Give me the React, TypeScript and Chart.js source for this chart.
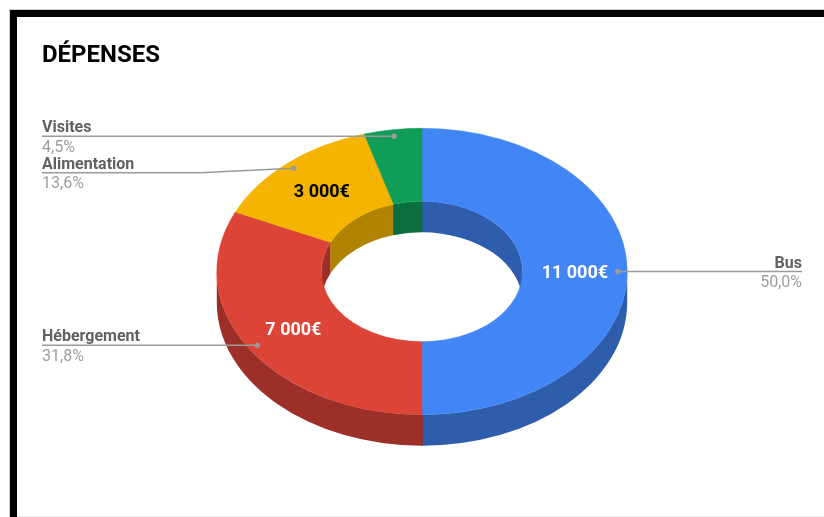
import React, { useEffect, useRef } from 'react';
import { Chart, registerables } from 'chart.js';

Chart.register(...registerables);

const TITLE = 'DÉPENSES';
const categories = ['Bus', 'Hébergement', 'Alimentation', 'Visites'];
const amounts = [11000, 7000, 3000, 1000];
const topColors = ['#4285f4', '#db4437', '#f4b400', '#0f9d58'];
const sideColors = ['#2e5eab', '#9c2f27', '#b08400', '#0b6e3f'];
const valueTextColors = ['#ffffff', '#ffffff', '#000000', '#ffffff'];
const labelSides = ['right', 'left', 'left', 'left'];

const TILT = 0.698;
const DEPTH = 31;

const fmtMoney = (v: number) => String(v).replace(/\B(?=(\d{3})+(?!\d))/g, ' ') + '€';
const fmtPct = (p: number) => (p * 100).toFixed(1).replace('.', ',') + '%';

const PI = Math.PI;

function wallBand(ctx: CanvasRenderingContext2D, cx: number, cy: number, r: number, s: number, e: number) {
  ctx.beginPath();
  ctx.ellipse(cx, cy, r, r * TILT, 0, s, e, false);
  ctx.ellipse(cx, cy + DEPTH, r, r * TILT, 0, e, s, true);
  ctx.closePath();
  ctx.fill();
}

const donut3d = {
  id: 'donut3d',
  beforeDatasetsDraw(chart: any) {
    const ctx = chart.ctx;
    const arcs = chart.getDatasetMeta(0).data;
    if (!arcs.length) return;
    const cx = arcs[0].x;
    const cy = arcs[0].y;
    const pad = 0.004;
    ctx.save();
    arcs.forEach((arc: any, i: number) => {
      ctx.fillStyle = sideColors[i];
      const s0 = arc.startAngle - pad;
      const e0 = arc.endAngle + pad;
      // outer wall: front half [0, PI]
      const os = Math.max(s0, 0);
      const oe = Math.min(e0, PI);
      if (oe > os) wallBand(ctx, cx, cy, arc.outerRadius, os, oe);
      // inner wall: back half [-PI, 0] and [PI, 2PI]
      [[-PI, 0], [PI, 2 * PI]].forEach(([a, b]) => {
        const is = Math.max(s0, a);
        const ie = Math.min(e0, b);
        if (ie > is) wallBand(ctx, cx, cy, arc.innerRadius, is, ie);
      });
    });
    ctx.restore();
    ctx.save();
    ctx.translate(cx, cy);
    ctx.scale(1, TILT);
    ctx.translate(-cx, -cy);
  },
  afterDatasetsDraw(chart: any) {
    chart.ctx.restore();
  },
};

const labelsPlugin = {
  id: 'labelsPlugin',
  afterDraw(chart: any) {
    const ctx = chart.ctx;
    const arcs = chart.getDatasetMeta(0).data;
    const total = amounts.reduce((a, b) => a + b, 0);
    ctx.save();
    // title
    ctx.fillStyle = '#000000';
    ctx.font = 'bold 24px Roboto';
    ctx.textAlign = 'left';
    ctx.textBaseline = 'alphabetic';
    ctx.fillText(TITLE, 42, 62);

    // value labels
    arcs.forEach((arc: any, i: number) => {
      const p = amounts[i] / total;
      if (p < 0.08) return;
      const mid = (arc.startAngle + arc.endAngle) / 2;
      const r = (arc.innerRadius + arc.outerRadius) / 2;
      const x = arc.x + Math.cos(mid) * r;
      const y = arc.y + Math.sin(mid) * r * TILT;
      ctx.font = 'bold 18px Roboto';
      ctx.fillStyle = valueTextColors[i];
      ctx.textAlign = 'center';
      ctx.textBaseline = 'alphabetic';
      ctx.fillText(fmtMoney(amounts[i]), x, y + 6.3);
    });

    // leader lines + outside labels
    const items = arcs.map((arc: any, i: number) => {
      const mid = (arc.startAngle + arc.endAngle) / 2;
      const rr = arc.outerRadius - 9.5;
      return {
        i,
        side: labelSides[i],
        dx: arc.x + Math.cos(mid) * rr,
        dy: arc.y + Math.sin(mid) * rr * TILT,
        ly: 0,
      };
    });
    ['left', 'right'].forEach((side) => {
      const group = items.filter((it: any) => it.side === side).sort((a: any, b: any) => a.dy - b.dy);
      let prev = -Infinity;
      group.forEach((it: any) => {
        it.ly = Math.max(it.dy, prev + 36.5);
        prev = it.ly;
      });
    });
    items.forEach((it: any) => {
      const p = amounts[it.i] / total;
      ctx.strokeStyle = '#9a9a9a';
      ctx.lineWidth = 1.5;
      ctx.beginPath();
      if (it.side === 'left') {
        const elbow = Math.min(200, it.dx);
        ctx.moveTo(42, it.ly);
        ctx.lineTo(elbow, it.ly);
        ctx.lineTo(it.dx, it.dy);
      } else {
        ctx.moveTo(it.dx, it.dy);
        ctx.lineTo(802, it.ly);
      }
      ctx.stroke();
      ctx.fillStyle = '#9a9a9a';
      ctx.beginPath();
      ctx.arc(it.dx, it.dy, 2.7, 0, Math.PI * 2);
      ctx.fill();

      const tx = it.side === 'left' ? 42 : 802;
      ctx.textAlign = it.side === 'left' ? 'left' : 'right';
      ctx.textBaseline = 'alphabetic';
      ctx.font = 'bold 16px Roboto';
      ctx.fillStyle = '#616161';
      ctx.fillText(categories[it.i], tx, it.ly - 4);
      ctx.font = '16px Roboto';
      ctx.fillStyle = '#9e9e9e';
      ctx.fillText(fmtPct(p), tx, it.ly + 15.5);
    });
    ctx.restore();
  },
};

export default function App() {
  const canvasRef = useRef<HTMLCanvasElement | null>(null);

  useEffect(() => {
    const canvas = canvasRef.current;
    if (!canvas) return;
    const chart = new Chart(canvas, {
      type: 'doughnut',
      data: {
        labels: categories,
        datasets: [
          {
            data: amounts,
            backgroundColor: topColors,
            borderColor: topColors,
            borderWidth: 0.6,
            clip: false as any,
          },
        ],
      },
      options: {
        animation: false,
        responsive: false,
        maintainAspectRatio: false,
        events: [],
        cutout: '49%',
        layout: { padding: { left: 216.5, right: 196.5, top: 66, bottom: 40 } },
        plugins: {
          legend: { display: false },
          title: { display: false },
          tooltip: { enabled: false },
        },
      },
      plugins: [donut3d, labelsPlugin],
    });
    return () => chart.destroy();
  }, []);

  return (
    <div
      style={{
        position: 'fixed',
        left: 0,
        top: 0,
        width: 824,
        height: 517,
        background: '#ffffff',
        overflow: 'hidden',
      }}
    >
      <div style={{ position: 'absolute', left: 9, top: 9, width: 815, height: 1, background: '#cfcfcf' }} />
      <div style={{ position: 'absolute', left: 9, top: 9, width: 1, height: 508, background: '#cfcfcf' }} />
      <div style={{ position: 'absolute', left: 10, top: 10, width: 814, height: 7, background: '#000000' }} />
      <div style={{ position: 'absolute', left: 10, top: 10, width: 7, height: 507, background: '#000000' }} />
      <div style={{ position: 'absolute', left: 17, top: 516, width: 807, height: 1, background: '#eeeeee' }} />
      <canvas
        ref={canvasRef}
        width={824}
        height={517}
        style={{ position: 'absolute', left: 0, top: 0, width: 824, height: 517 }}
      />
    </div>
  );
}
